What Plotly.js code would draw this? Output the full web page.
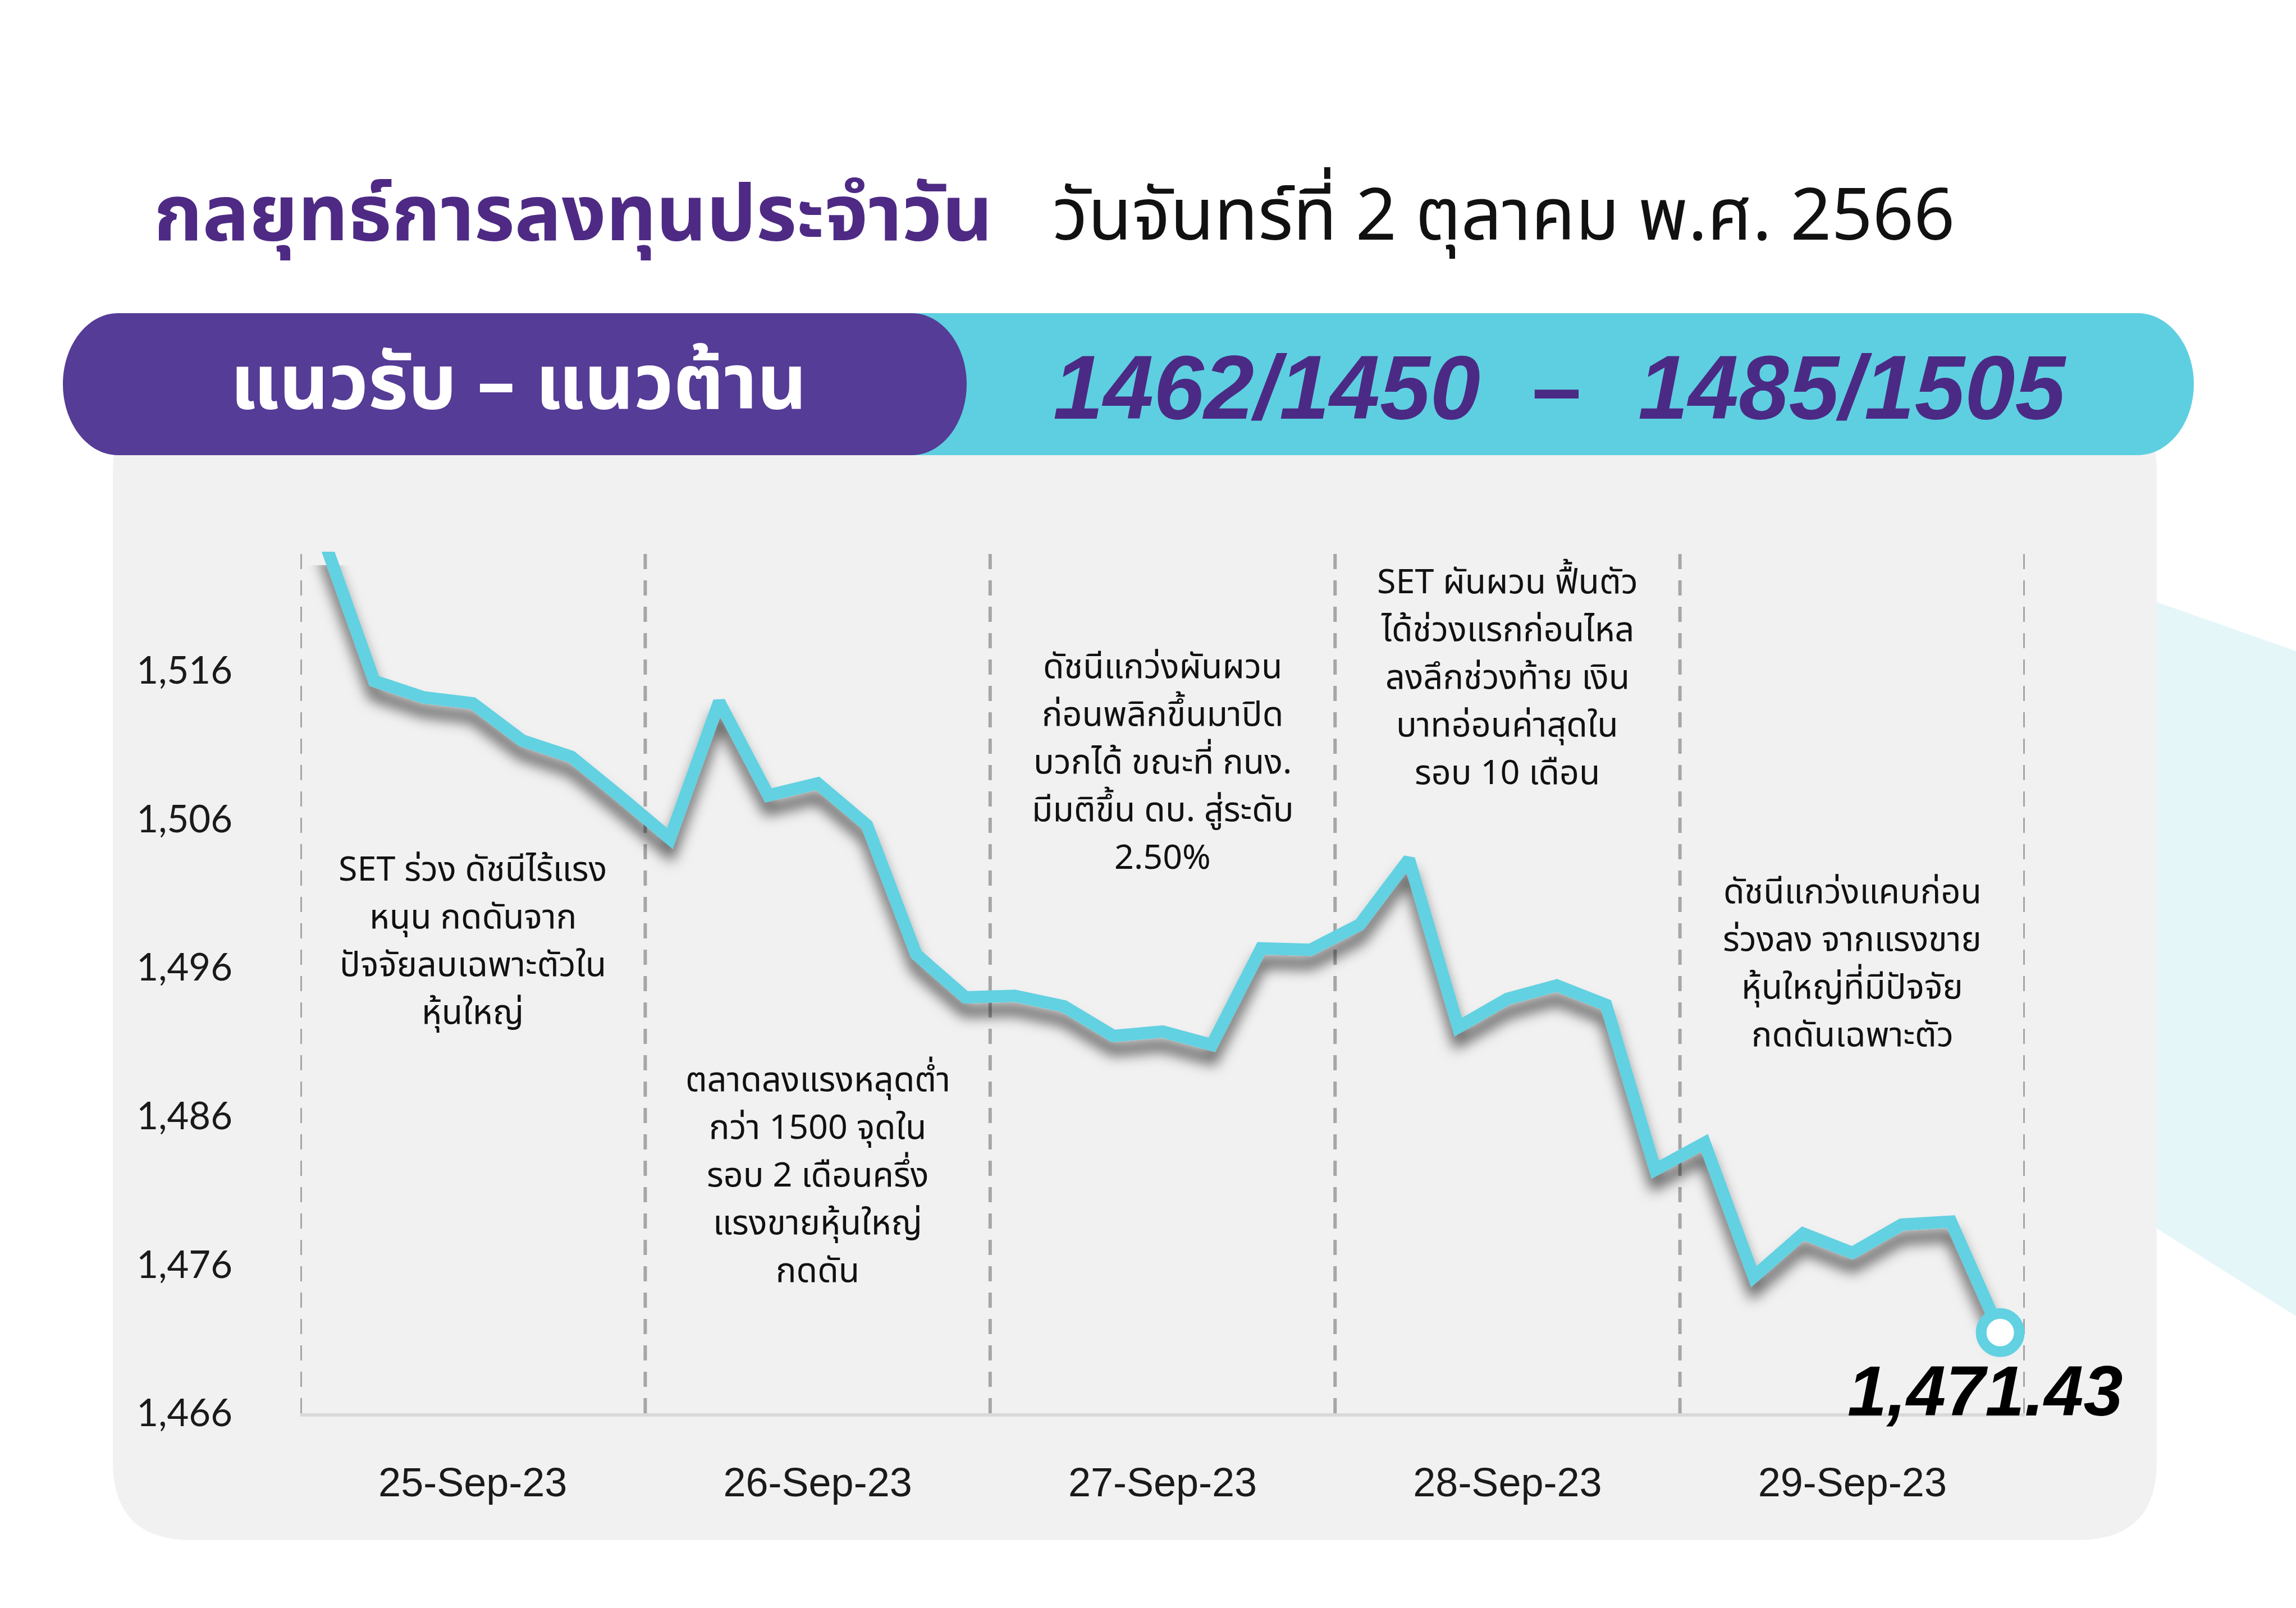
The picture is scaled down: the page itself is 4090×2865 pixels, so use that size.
<!DOCTYPE html>
<html>
<head>
<meta charset="utf-8">
<script src="https://cdn.plot.ly/plotly-3.0.1.min.js"></script>
<style>
  html, body { margin: 0; padding: 0; background: #ffffff; }
  #chart { width: 4090px; height: 2865px; }
</style>
</head>
<body>
<div id="chart"></div>
<script>
// ---------- data ----------
const dayLabels = ['25-Sep-23', '26-Sep-23', '27-Sep-23', '28-Sep-23', '29-Sep-23'];
const pointsPerDay = 7;
const setIndex = [
  1524.6, 1515.3, 1514.2, 1513.8, 1511.3, 1510.2, 1507.5,
  1504.7, 1513.9, 1507.6, 1508.4, 1505.6, 1496.9, 1494.0,
  1494.1, 1493.4, 1491.4, 1491.7, 1490.8, 1497.3, 1497.2,
  1498.9, 1503.3, 1492.0, 1493.9, 1494.8, 1493.5, 1482.4,
  1484.2, 1475.2, 1478.1, 1476.8, 1478.7, 1478.9, 1471.43
];
const yTickValues = [1466, 1476, 1486, 1496, 1506, 1516];
const yTickLabels = ['1,466', '1,476', '1,486', '1,496', '1,506', '1,516'];
const dayNotes = [
  ['SET ร่วง ดัชนีไร้แรง', 'หนุน กดดันจาก', 'ปัจจัยลบเฉพาะตัวใน', 'หุ้นใหญ่'],
  ['ตลาดลงแรงหลุดต่ำ', 'กว่า 1500 จุดใน', 'รอบ 2 เดือนครึ่ง', 'แรงขายหุ้นใหญ่', 'กดดัน'],
  ['ดัชนีแกว่งผันผวน', 'ก่อนพลิกขึ้นมาปิด', 'บวกได้ ขณะที่ กนง.', 'มีมติขึ้น ดบ. สู่ระดับ', '2.50%'],
  ['SET ผันผวน ฟื้นตัว', 'ได้ช่วงแรกก่อนไหล', 'ลงลึกช่วงท้าย เงิน', 'บาทอ่อนค่าสุดใน', 'รอบ 10 เดือน'],
  ['ดัชนีแกว่งแคบก่อน', 'ร่วงลง จากแรงขาย', 'หุ้นใหญ่ที่มีปัจจัย', 'กดดันเฉพาะตัว']
];
const titleMain = 'กลยุทธ์การลงทุนประจำวัน';
const titleDate = 'วันจันทร์ที่ 2 ตุลาคม พ.ศ. 2566';
const bannerLabel = 'แนวรับ – แนวต้าน';
const supportLevels = ['1462', '1450'];
const resistanceLevels = ['1485', '1505'];

// ---------- geometry / style ----------
const W = 4090, H = 2865;
const PL = 535, PR = 3607, PT = 983, PB = 2518;
const px = x => (x - PL) / (PR - PL);
const py = y => (PB - y) / (PB - PT);
const P = (x, y) => px(x).toFixed(5) + ',' + py(y).toFixed(5);

const thaiFont = '"Noto Sans Thai", "Noto Sans Thai Looped", Kanit, Prompt, "Noto Sans", "DejaVu Sans", sans-serif';
const CYAN = '#5ECFE0';
const LINE = '#62D1E1';
const PURPLE_BAND = '#553C96';
const PURPLE_TEXT = '#4E2A84';

const xIdx = setIndex.map((_, i) => i);
const dayCenters = dayLabels.map((_, k) => k * pointsPerDay + (pointsPerDay - 1) / 2);
const dayBounds = dayLabels.map((_, k) => k * pointsPerDay - 0.5).concat([dayLabels.length * pointsPerDay - 0.5]);
const lastI = setIndex.length - 1;
const lastV = setIndex[lastI];

function roundRect(x0, y0, x1, y1, r) {
  return 'M' + P(x0 + r, y0) + ' L' + P(x1 - r, y0) + ' Q' + P(x1, y0) + ' ' + P(x1, y0 + r) +
    ' L' + P(x1, y1 - r) + ' Q' + P(x1, y1) + ' ' + P(x1 - r, y1) +
    ' L' + P(x0 + r, y1) + ' Q' + P(x0, y1) + ' ' + P(x0, y1 - r) +
    ' L' + P(x0, y0 + r) + ' Q' + P(x0, y0) + ' ' + P(x0 + r, y0) + ' Z';
}
function pill(x0, y0, x1, y1, rx, leftRound) {
  const ym = (y0 + y1) / 2, k = 0.55;
  let d = 'M' + P(leftRound ? x0 + rx : x0, y0) + ' L' + P(x1 - rx, y0) +
    ' C' + P(x1 - rx + rx * k, y0) + ' ' + P(x1, ym - (ym - y0) * k) + ' ' + P(x1, ym) +
    ' C' + P(x1, ym + (y1 - ym) * k) + ' ' + P(x1 - rx + rx * k, y1) + ' ' + P(x1 - rx, y1);
  if (leftRound) {
    d += ' L' + P(x0 + rx, y1) +
      ' C' + P(x0 + rx - rx * k, y1) + ' ' + P(x0, ym + (y1 - ym) * k) + ' ' + P(x0, ym) +
      ' C' + P(x0, ym - (ym - y0) * k) + ' ' + P(x0 + rx - rx * k, y0) + ' ' + P(x0 + rx, y0);
  } else {
    d += ' L' + P(x0, y1);
  }
  return d + ' Z';
}

const shapes = [
  { type: 'path', xref: 'paper', yref: 'paper', layer: 'below',
    path: 'M' + P(3780, 1068) + ' Q' + P(3800, 1060) + ' ' + P(3840, 1072) + ' L' + P(4090, 1160) +
      ' L' + P(4090, 2345) + ' L' + P(3780, 2150) + ' Z',
    fillcolor: '#E5F6F9', line: { width: 0 } },
  { type: 'path', xref: 'paper', yref: 'paper', layer: 'below',
    path: roundRect(201, 700, 3842, 2744, 140), fillcolor: '#F1F1F1', line: { width: 0 } },
  { type: 'path', xref: 'paper', yref: 'paper', layer: 'below',
    path: pill(1500, 558, 3908, 811, 100, false), fillcolor: CYAN, line: { width: 0 } },
  { type: 'path', xref: 'paper', yref: 'paper', layer: 'below',
    path: pill(112, 558, 1722, 811, 98, true), fillcolor: PURPLE_BAND, line: { width: 0 } }
];
dayBounds.forEach(b => shapes.push({
  type: 'line', xref: 'x', yref: 'paper', layer: 'below', x0: b, x1: b, y0: 0, y1: 1,
  line: { color: '#A6A6A6', width: 6, dash: '27px,20px' }
}));

const annotations = [
  { text: '<b>' + titleMain + '</b>', xref: 'paper', yref: 'paper', x: px(272), y: py(386),
    xanchor: 'left', yanchor: 'middle', showarrow: false,
    font: { family: thaiFont, size: 139, color: PURPLE_TEXT } },
  { text: titleDate, xref: 'paper', yref: 'paper', x: px(1873), y: py(388),
    xanchor: 'left', yanchor: 'middle', showarrow: false,
    font: { family: thaiFont, size: 128, color: '#111111' } },
  { text: '<b>' + bannerLabel + '</b>', xref: 'paper', yref: 'paper', x: px(923), y: py(686),
    xanchor: 'center', yanchor: 'middle', showarrow: false,
    font: { family: thaiFont, size: 137, color: '#FFFFFF' } },
  { text: '<b><i>' + supportLevels.join('/') + '</i></b>', xref: 'paper', yref: 'paper', x: px(2256), y: py(690),
    xanchor: 'center', yanchor: 'middle', showarrow: false,
    font: { family: '"Liberation Sans", Arial, sans-serif', size: 161, color: '#4B2A85' } },
  { text: '<b>–</b>', xref: 'paper', yref: 'paper', x: px(2773), y: py(690),
    xanchor: 'center', yanchor: 'middle', showarrow: false,
    font: { family: '"Liberation Sans", Arial, sans-serif', size: 158, color: '#4B2A85' } },
  { text: '<b><i>' + resistanceLevels.join('/') + '</i></b>', xref: 'paper', yref: 'paper', x: px(3300), y: py(690),
    xanchor: 'center', yanchor: 'middle', showarrow: false,
    font: { family: '"Liberation Sans", Arial, sans-serif', size: 161, color: '#4B2A85' } },
  { text: '<b><i>' + lastV.toLocaleString('en-US', { minimumFractionDigits: 2 }) + '</i></b>',
    xref: 'x', yref: 'paper', x: lastI, y: py(2478), xshift: -27,
    xanchor: 'center', yanchor: 'middle', showarrow: false,
    font: { family: '"Liberation Sans", Arial, sans-serif', size: 126, color: '#000000' } }
];
const noteCenterY = [1677, 2095, 1359, 1208, 1717];
const noteLineStep = 85;
dayNotes.forEach((lines, k) => {
  const y0 = noteCenterY[k] - (lines.length - 1) * noteLineStep / 2;
  lines.forEach((t, j) => annotations.push({
    text: t, xref: 'x', yref: 'paper', x: dayCenters[k], y: py(y0 + j * noteLineStep),
    xanchor: 'center', yanchor: 'middle', align: 'center', showarrow: false,
    font: { family: thaiFont, size: 61, color: '#111111' }
  }));
});

const traces = [
  { x: xIdx, y: setIndex, type: 'scatter', mode: 'lines',
    line: { color: LINE, width: 22, shape: 'linear' }, hoverinfo: 'skip' },
  { x: [lastI], y: [lastV], type: 'scatter', mode: 'markers', cliponaxis: false,
    marker: { size: 68, color: '#FFFFFF', line: { color: LINE, width: 19 } }, hoverinfo: 'skip' }
];

const layout = {
  width: W, height: H,
  margin: { l: PL, r: W - PR, t: PT, b: H - PB, pad: 0 },
  paper_bgcolor: '#FFFFFF', plot_bgcolor: 'rgba(0,0,0,0)',
  showlegend: false,
  xaxis: {
    range: [-0.5, setIndex.length - 0.5], showgrid: false, zeroline: false,
    showline: true, linecolor: '#D9D9D9', linewidth: 6,
    tickmode: 'array', tickvals: dayCenters, ticktext: dayLabels, ticks: '',
    ticklabelstandoff: 56,
    tickfont: { family: '"Liberation Sans", Arial, sans-serif', size: 72, color: '#1A1A1A' }
  },
  yaxis: {
    range: [1466, 1524.0], showgrid: false, zeroline: false, showline: false,
    tickmode: 'array', tickvals: yTickValues, ticktext: yTickLabels, ticks: '',
    ticklabelstandoff: 120,
    tickfont: { family: 'Lato, "Noto Sans", sans-serif', size: 67, color: '#1A1A1A' }
  },
  shapes: shapes,
  annotations: annotations
};

Plotly.newPlot('chart', traces, layout, { staticPlot: true, displayModeBar: false }).then(gd => {
  const ns = 'http://www.w3.org/2000/svg';
  const svg = gd.querySelector('.main-svg');
  let defs = svg.querySelector('defs');
  if (!defs) { defs = document.createElementNS(ns, 'defs'); svg.insertBefore(defs, svg.firstChild); }
  const f = document.createElementNS(ns, 'filter');
  f.setAttribute('id', 'lineShadow');
  f.setAttribute('filterUnits', 'userSpaceOnUse');
  f.setAttribute('x', '0'); f.setAttribute('y', '0');
  f.setAttribute('width', String(W)); f.setAttribute('height', String(H));
  f.innerHTML =
    '<feGaussianBlur in="SourceAlpha" stdDeviation="12" result="b"/>' +
    '<feOffset in="b" dx="0" dy="24" result="o"/>' +
    '<feFlood flood-color="#000000" flood-opacity="0.6" result="c"/>' +
    '<feComposite in="c" in2="o" operator="in" result="s"/>' +
    '<feMerge><feMergeNode in="s"/><feMergeNode in="SourceGraphic"/></feMerge>';
  defs.appendChild(f);
  const line = gd.querySelector('.scatterlayer .trace path.js-line');
  if (line) line.setAttribute('filter', 'url(#lineShadow)');
});
</script>
</body>
</html>
